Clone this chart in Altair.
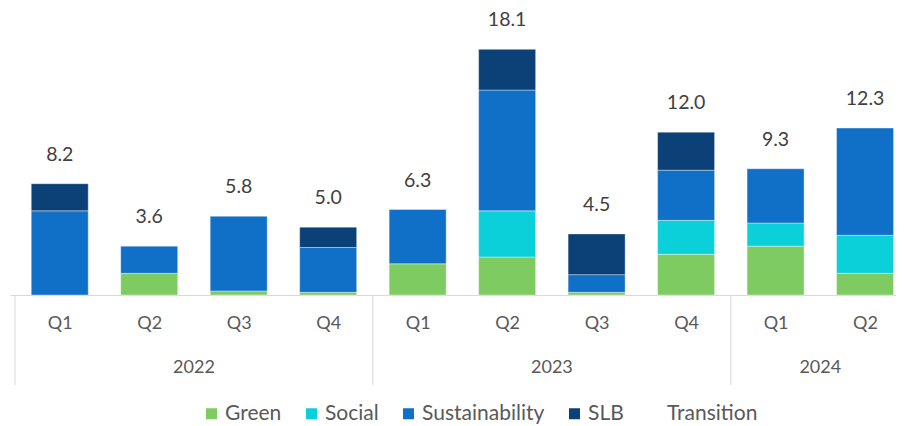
import altair as alt
import pandas as pd

# ---- data ----
years = ["2022", "2022", "2022", "2022", "2023", "2023", "2023", "2023", "2024", "2024"]
quarters = ["Q1", "Q2", "Q3", "Q4", "Q1", "Q2", "Q3", "Q4", "Q1", "Q2"]
series = ["Green", "Social", "Sustainability", "SLB", "Transition"]
green = [0.0, 1.6, 0.3, 0.2, 2.3, 2.8, 0.2, 3.0, 3.6, 1.6]
social = [0.0, 0.0, 0.0, 0.0, 0.0, 3.4, 0.0, 2.5, 1.7, 2.8]
sustainability = [6.2, 2.0, 5.5, 3.3, 4.0, 8.9, 1.3, 3.7, 4.0, 7.9]
slb = [2.0, 0.0, 0.0, 1.5, 0.0, 3.0, 3.0, 2.8, 0.0, 0.0]
transition = [0.0] * 10
totals = [8.2, 3.6, 5.8, 5.0, 6.3, 18.1, 4.5, 12.0, 9.3, 12.3]
colors = ["#7ECB62", "#0BCFD9", "#106FC6", "#0B4176", "#FFFFFF"]

# ---- tables built from the arrays ----
idx = list(range(len(quarters)))
values_by_series = [green, social, sustainability, slb, transition]
rows = []
for i in idx:
    for k, s in enumerate(series):
        rows.append({"idx": i, "series": s, "order": k, "value": values_by_series[k][i]})
df = pd.DataFrame(rows)
df_bars = df[df["value"] > 0]

tdf = pd.DataFrame({"idx": idx, "total": totals})

year_names = []
for y in years:
    if y not in year_names:
        year_names.append(y)
ydf = pd.DataFrame({
    "year": year_names,
    "center": [sum(i for i in idx if years[i] == y) / years.count(y) for y in year_names],
})
bdf = pd.DataFrame({"pos": [min(i for i in idx if years[i] == y) - 0.5 for y in year_names]})

FONT = "Lato"
TXT = "#595959"
GRID = "#D9D9D9"
W, H = 886, 283
step = 90.5
px_per_unit = 13.571
xscale = alt.Scale(domain=[-0.5, -0.5 + W / step], nice=False, zero=False)
yscale = alt.Scale(domain=[0, H / px_per_unit], nice=False, zero=True)

q_expr = "[" + ",".join("'" + q + "'" for q in quarters) + "][datum.value]"

bars = alt.Chart(df_bars).mark_bar(
    size=57, stroke="#FFFFFF", strokeWidth=0.75, strokeOpacity=0.5
).encode(
    x=alt.X("idx:Q", scale=xscale, axis=alt.Axis(
        values=idx, labelExpr=q_expr, ticks=False, tickSize=0, grid=False,
        domainColor=GRID, domainWidth=1, labelFont=FONT, labelFontSize=18,
        labelColor=TXT, labelPadding=28, labelBaseline="middle", title=None,
        labelAngle=0, labelFlush=False, labelOverlap=False)),
    y=alt.Y("value:Q", stack="zero", scale=yscale, axis=None),
    color=alt.Color("series:N", sort=series,
                    scale=alt.Scale(domain=series, range=colors),
                    legend=alt.Legend(
                        orient="none", legendX=191, legendY=391,
                        direction="horizontal", title=None, symbolType="square",
                        symbolSize=121, symbolStrokeWidth=0, labelFont=FONT,
                        labelFontSize=21, labelColor=TXT, columnPadding=19,
                        labelOffset=3, padding=0)),
    order=alt.Order("order:Q"),
)

labels = alt.Chart(tdf).mark_text(
    font=FONT, fontSize=19.5, color="#404040", baseline="middle", dy=-29
).encode(
    x=alt.X("idx:Q", scale=xscale),
    y=alt.Y("total:Q", scale=yscale),
    text=alt.Text("total:Q", format=".1f"),
)

dividers = alt.Chart(bdf).mark_rule(color=GRID, strokeWidth=1).encode(
    x=alt.X("pos:Q", scale=xscale),
    y=alt.value(H),
    y2=alt.value(H + 90),
)

year_text = alt.Chart(ydf).mark_text(
    font=FONT, fontSize=18, color=TXT, baseline="middle"
).encode(
    x=alt.X("center:Q", scale=xscale),
    y=alt.value(H + 73),
    text="year:N",
)

chart = alt.layer(bars, dividers, labels, year_text).properties(
    width=W, height=H,
    background="#FFFFFF",
    autosize=alt.AutoSizeParams(type="none"),
    padding={"left": 2, "top": 4, "right": 0, "bottom": 131},
).configure_view(stroke=None)

chart.save("out.html", embed_options={"renderer": "svg", "actions": False})
